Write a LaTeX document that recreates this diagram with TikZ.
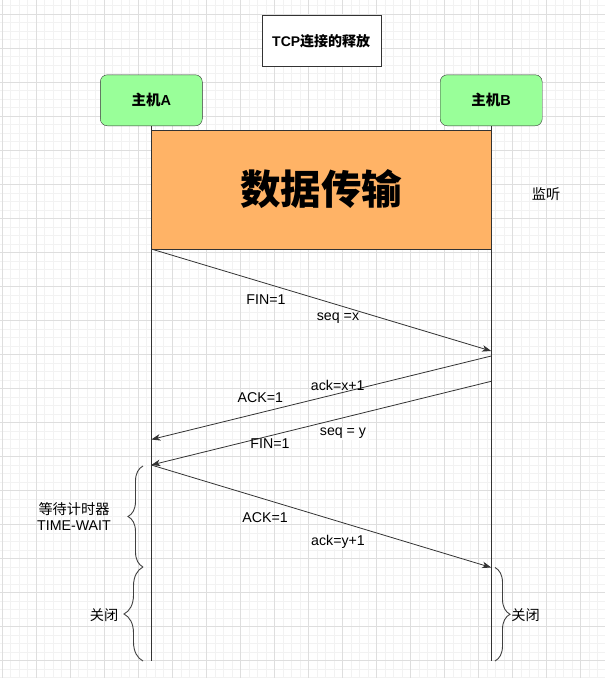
\documentclass[tikz,border=0pt]{standalone}
\usepackage{fontspec}
\setmainfont{Liberation Sans}
\newfontfamily\cjk{Noto Sans CJK SC}
\usetikzlibrary{arrows.meta,
	decorations.pathreplacing,
	positioning}

\definecolor{hostgreen}{HTML}{99FF99}
\definecolor{dataorange}{HTML}{FFB366}
\definecolor{linegray}{HTML}{333333}

\tikzset{
	host/.style={draw=linegray, fill=hostgreen, rounded corners=7pt, minimum width=102pt, minimum height=51pt, font=\fontsize{14.5}{16}\selectfont\bfseries},
	msg/.style={draw=linegray, line width=0.8pt, -{Stealth[length=9pt,width=6.5pt,inset=2.5pt]}},
	lbl/.style={font=\fontsize{14.2}{16}\selectfont, inner sep=1pt},
	curly/.style={draw=black!75, line width=0.9pt, decorate, decoration={brace, amplitude=#1}},
	gridminor/.style={draw=black!5, line width=0.8pt},
	gridmajor/.style={draw=black!13, line width=0.8pt}
}

\begin{document}
\begin{tikzpicture}[x=1pt, y=-1pt]
	\useasboundingbox (0,0) rectangle (605,678);
	\fill[white] (0,0) rectangle (605,678);
	% canvas grid
	\foreach \i in {0,...,70} \draw[gridminor] ({2.3+8.505*\i},0) -- ({2.3+8.505*\i},678);
	\foreach \i in {0,...,79} \draw[gridminor] (0,{5.8+8.505*\i}) -- (605,{5.8+8.505*\i});
	\foreach \i in {0,...,17} \draw[gridmajor] ({2.3+34.02*\i},0) -- ({2.3+34.02*\i},678);
	\foreach \i in {0,...,19} \draw[gridmajor] (0,{14.3+34.02*\i}) -- (605,{14.3+34.02*\i});

	\node (title) [draw=linegray, fill=white, minimum width=119pt, minimum height=51pt, font=\fontsize{14}{16}\selectfont\bfseries] at (321.2,40.8) {TCP{\cjk 连接的释放}};
	\node (hostA) [host] at (151.3,100.3) {{\cjk 主机}A};
	\node (hostB) [host] at (491.2,100.3) {{\cjk 主机}B};

	% lifelines
	\coordinate (endA) at (151.3,661);
	\coordinate (endB) at (491.2,661);
	\draw[linegray, line width=0.8pt] (hostA) -- (endA);
	\draw[linegray, line width=0.8pt] (hostB) -- (endB);

	\node (data) [draw=linegray, fill=dataorange, minimum width=340pt, minimum height=118.7pt, font=\fontsize{40.5}{44}\selectfont\bfseries\cjk] at (321.2,189.4) {数据传输};
	\node (listen) [lbl] at (546,194) {\cjk 监听};

	% messages
	\coordinate (a1) at (151.3,249);
	\coordinate (b1) at (491.2,351);
	\coordinate (b2) at (491.2,356);
	\coordinate (a2) at (151.3,439.5);
	\coordinate (b3) at (491.2,381.3);
	\coordinate (a3) at (151.3,465);
	\coordinate (b4) at (491.2,567.5);
	\draw[msg] (a1) -- (b1);
	\draw[msg] (b2) -- (a2);
	\draw[msg] (b3) -- (a3);
	\draw[msg] (a3) -- (b4);

	\node (fin1) [lbl] at (266,299.3) {FIN=1};
	\node (seqx) [lbl] at (338,317.7) {seq =x};
	\node (ackx) [lbl] at (337.8,385.3) {ack=x+1};
	\node (ack1) [lbl] at (260.3,397.3) {ACK=1};
	\node (seqy) [lbl, fill=white, fill opacity=0.8, text opacity=1] at (343,433.3) {seq = y};
	\node (fin2) [lbl] at (270,443.7) {FIN=1};
	\node (ack2) [lbl] at (265,518) {ACK=1};
	\node (acky) [lbl, fill=white] at (338,541.5) {ack=y+1};

	% timers
	\coordinate (w0) at (143,466);
	\coordinate (w1) at (143,567);
	\coordinate (c1) at (143,661);
	\coordinate (r0) at (495,567.5);
	\coordinate (r1) at (495,661);
	\draw[curly=15pt] (w1) -- (w0);
	\draw[curly=19pt] (c1) -- (w1);
	\draw[curly=15pt] (r0) -- (r1);
	\node (wait) [lbl, align=center] at (74,516) {{\cjk 等待计时器}\\TIME-WAIT};
	\node (closeA) [lbl] at (104,615) {\cjk 关闭};
	\node (closeB) [lbl] at (525.5,615) {\cjk 关闭};
\end{tikzpicture}
\end{document}
